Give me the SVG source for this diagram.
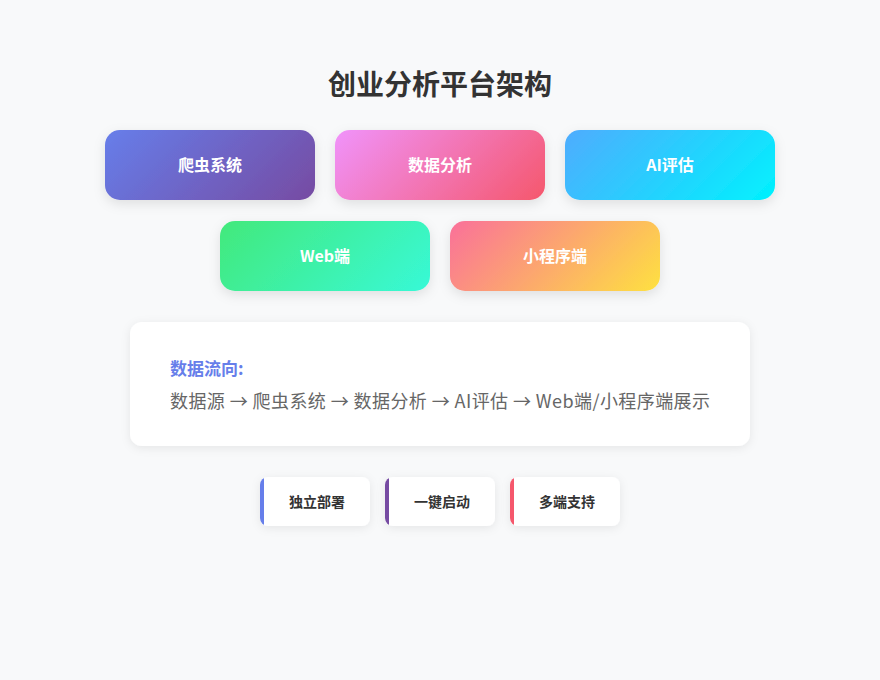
<svg xmlns="http://www.w3.org/2000/svg" width="880" height="680" viewBox="0 0 880 680">
  <defs>
    <linearGradient id="g1" gradientUnits="userSpaceOnUse" x1="140" y1="95" x2="280" y2="235"><stop offset="0" stop-color="#667eea"/><stop offset="1" stop-color="#764ba2"/></linearGradient>
    <linearGradient id="g2" gradientUnits="userSpaceOnUse" x1="370" y1="95" x2="510" y2="235"><stop offset="0" stop-color="#f093fb"/><stop offset="1" stop-color="#f5576c"/></linearGradient>
    <linearGradient id="g3" gradientUnits="userSpaceOnUse" x1="600" y1="95" x2="740" y2="235"><stop offset="0" stop-color="#4facfe"/><stop offset="1" stop-color="#00f2fe"/></linearGradient>
    <linearGradient id="g4" gradientUnits="userSpaceOnUse" x1="255" y1="186" x2="395" y2="326"><stop offset="0" stop-color="#43e97b"/><stop offset="1" stop-color="#38f9d7"/></linearGradient>
    <linearGradient id="g5" gradientUnits="userSpaceOnUse" x1="485" y1="186" x2="625" y2="326"><stop offset="0" stop-color="#fa709a"/><stop offset="1" stop-color="#fee140"/></linearGradient>
    <filter id="sh" x="-20%" y="-30%" width="140%" height="170%">
      <feDropShadow dx="0" dy="4" stdDeviation="6" flood-color="#000" flood-opacity="0.1"/>
    </filter>
    <filter id="sh2" x="-20%" y="-30%" width="140%" height="170%">
      <feDropShadow dx="0" dy="2" stdDeviation="5" flood-color="#000" flood-opacity="0.08"/>
    </filter>
    <clipPath id="c1"><rect x="260" y="477" width="110" height="49" rx="8"/></clipPath>
    <clipPath id="c2"><rect x="385" y="477" width="110" height="49" rx="8"/></clipPath>
    <clipPath id="c3"><rect x="510" y="477" width="110" height="49" rx="8"/></clipPath>
  </defs>
  <style>
    text { font-family: "Noto Sans CJK SC", "Liberation Sans", sans-serif; }
    .title { font-size: 28px; font-weight: bold; fill: #333; }
    .card { filter: url(#sh); }
    .ct { font-size: 16px; font-weight: bold; fill: #fff; }
    .bt { font-size: 14px; font-weight: bold; fill: #333; }
    .lab { font-size: 17px; font-weight: bold; fill: #667eea; }
    .flow { font-size: 18px; fill: #666; }
  </style>
  <rect width="880" height="680" fill="#f8f9fa"/>
  <text class="title" x="440" y="95" text-anchor="middle">创业分析平台架构</text>

  <g id="node-crawler">
    <rect class="card" x="105" y="130" width="210" height="70" rx="15" fill="url(#g1)"/>
    <text class="ct" x="210" y="171" text-anchor="middle">爬虫系统</text>
  </g>
  <g id="node-analysis">
    <rect class="card" x="335" y="130" width="210" height="70" rx="15" fill="url(#g2)"/>
    <text class="ct" x="440" y="171" text-anchor="middle">数据分析</text>
  </g>
  <g id="node-ai">
    <rect class="card" x="565" y="130" width="210" height="70" rx="15" fill="url(#g3)"/>
    <text class="ct" x="670" y="171" text-anchor="middle">AI评估</text>
  </g>
  <g id="node-web">
    <rect class="card" x="220" y="221" width="210" height="70" rx="15" fill="url(#g4)"/>
    <text class="ct" x="325" y="262" text-anchor="middle">Web端</text>
  </g>
  <g id="node-mini">
    <rect class="card" x="450" y="221" width="210" height="70" rx="15" fill="url(#g5)"/>
    <text class="ct" x="555" y="262" text-anchor="middle">小程序端</text>
  </g>

  <g id="connectors"></g>

  <g id="info">
    <rect x="130" y="322" width="620" height="124" rx="12" fill="#fff" filter="url(#sh2)"/>
    <text class="lab" x="170" y="375">数据流向:</text>
    <text class="flow" x="170" y="408" textLength="540">数据源 → 爬虫系统 → 数据分析 → AI评估 → Web端/小程序端展示</text>
  </g>

  <g id="badge-deploy">
    <rect x="260" y="477" width="110" height="49" rx="8" fill="#fff" filter="url(#sh2)"/>
    <rect x="260" y="477" width="4" height="49" fill="#667eea" clip-path="url(#c1)"/>
    <text class="bt" x="317" y="507" text-anchor="middle">独立部署</text>
  </g>
  <g id="badge-start">
    <rect x="385" y="477" width="110" height="49" rx="8" fill="#fff" filter="url(#sh2)"/>
    <rect x="385" y="477" width="4" height="49" fill="#764ba2" clip-path="url(#c2)"/>
    <text class="bt" x="442" y="507" text-anchor="middle">一键启动</text>
  </g>
  <g id="badge-multi">
    <rect x="510" y="477" width="110" height="49" rx="8" fill="#fff" filter="url(#sh2)"/>
    <rect x="510" y="477" width="4" height="49" fill="#f5576c" clip-path="url(#c3)"/>
    <text class="bt" x="567" y="507" text-anchor="middle">多端支持</text>
  </g>
</svg>
